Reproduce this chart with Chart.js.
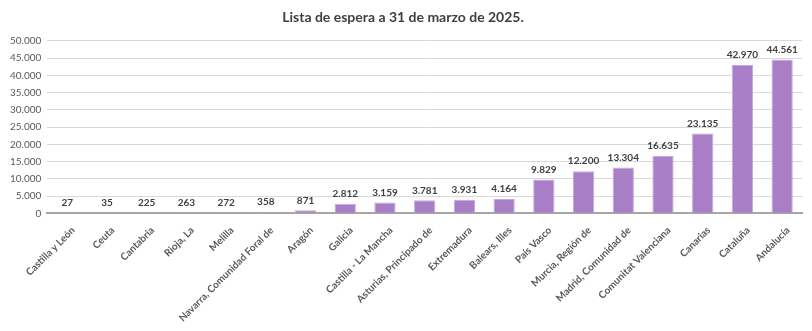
<!DOCTYPE html>
<html>
<head>
<meta charset="utf-8">
<script src="https://cdn.jsdelivr.net/npm/chart.js@4"></script>
<style>
    html, body { margin: 0; padding: 0; background: #fff; }
    #wrap { width: 812px; height: 331px; }
</style>
</head>
<body>
<div id="wrap"><canvas id="esperaChart"></canvas></div>
<script>
// Lista de espera por comunidad
const comunidades = ['Castilla y León', 'Ceuta', 'Cantabria', 'Rioja, La', 'Melilla',
    'Navarra, Comunidad Foral de', 'Aragón', 'Galicia', 'Castilla - La Mancha',
    'Asturias, Principado de', 'Extremadura', 'Balears, Illes', 'País Vasco',
    'Murcia, Región de', 'Madrid, Comunidad de', 'Comunitat Valenciana',
    'Canarias', 'Cataluña', 'Andalucía'];
const pacientes = [27, 35, 225, 263, 272, 358, 871, 2812, 3159, 3781, 3931, 4164,
    9829, 12200, 13304, 16635, 23135, 42970, 44561];
const yTicks = [0, 5000, 10000, 15000, 20000, 25000, 30000, 35000, 40000, 45000, 50000];

const fmt = (v) => v.toLocaleString('de-DE');

// draw value labels above each bar
const valueLabels = {
    id: 'valueLabels',
    afterDatasetsDraw(chart) {
        const ctx = chart.ctx;
        const meta = chart.getDatasetMeta(0);
        ctx.save();
        ctx.font = 'bold 10px Lato, sans-serif';
        ctx.fillStyle = '#404040';
        ctx.textAlign = 'center';
        ctx.textBaseline = 'bottom';
        meta.data.forEach((bar, i) => {
            ctx.fillText(fmt(pacientes[i]), bar.x, bar.y - 5);
        });
        ctx.restore();
    }
};

const ctx = document.getElementById('esperaChart');
new Chart(ctx, {
    type: 'bar',
    data: {
        labels: comunidades,
        datasets: [{
            data: pacientes,
            backgroundColor: '#a87fc6',
            borderColor: '#c7a6e0',
            borderWidth: 1,
            barPercentage: 0.85,
            categoryPercentage: 0.63
        }]
    },
    options: {
        responsive: true,
        maintainAspectRatio: false,
        animation: false,
        layout: { padding: { left: 4, right: 10, top: 0, bottom: 4 } },
        plugins: {
            legend: { display: false },
            tooltip: { enabled: false },
            title: {
                display: true,
                text: 'Lista de espera a 31 de marzo de 2025.',
                color: '#404040',
                font: { family: 'Lato, sans-serif', size: 14, weight: 'bold' },
                padding: { top: 9, bottom: 15 }
            }
        },
        scales: {
            y: {
                min: 0,
                max: 50000,
                afterBuildTicks: (axis) => { axis.ticks = yTicks.map(v => ({ value: v })); },
                ticks: {
                    color: '#595959',
                    font: { family: 'Lato, sans-serif', size: 10 },
                    callback: (v) => fmt(v),
                    padding: 6
                },
                grid: { color: '#d9d9d9', drawTicks: false },
                border: { display: false }
            },
            x: {
                ticks: {
                    color: '#595959',
                    font: { family: 'Lato, sans-serif', size: 10, weight: 'bold' },
                    maxRotation: 45,
                    minRotation: 45,
                    autoSkip: false,
                    labelOffset: 6
                },
                grid: { display: false },
                border: { color: '#a6a6a6', width: 2 }
            }
        }
    },
    plugins: [valueLabels]
});
</script>
</body>
</html>
